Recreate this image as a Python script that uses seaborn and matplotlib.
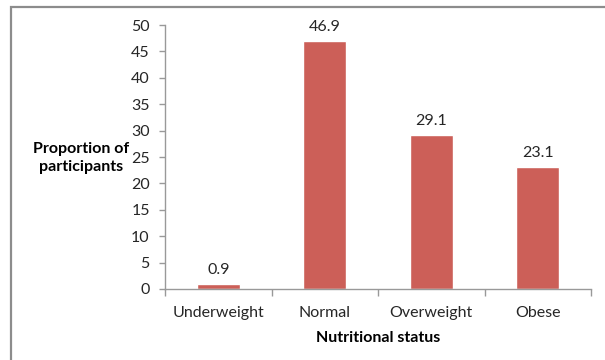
import matplotlib
matplotlib.use("Agg")
import matplotlib.pyplot as plt
from matplotlib.patches import Rectangle
import seaborn as sns
import pandas as pd

categories = ["Underweight", "Normal", "Overweight", "Obese"]
proportions = [0.9, 46.9, 29.1, 23.1]
y_ticks = [0, 5, 10, 15, 20, 25, 30, 35, 40, 45, 50]

sns.set_theme(style="white")
plt.rcParams["font.family"] = ["Lato", "DejaVu Sans"]

df = pd.DataFrame({"status": categories, "proportion": proportions})

fig = plt.figure(figsize=(6.05, 3.6), dpi=100)
ax = fig.add_axes([165 / 605, 1 - 289 / 360, 426 / 605, 264 / 360])

sns.barplot(data=df, x="status", y="proportion", color="#CC5F58",
            saturation=1, width=0.4, ax=ax)

ax.set_ylim(0, 50)
ax.set_xlim(-0.5, len(categories) - 0.5)
ax.set_yticks(y_ticks)
ax.set_yticklabels([str(t) for t in y_ticks], fontsize=11.5, color="#262626")
ax.set_xticks(range(len(categories)))
ax.set_xticklabels(categories, fontsize=11.5, color="#262626")

# category separators on the x axis, Excel style
ax.set_xticks([i - 0.5 for i in range(len(categories) + 1)], minor=True)
ax.tick_params(axis="x", which="major", length=0, pad=12)
ax.tick_params(axis="x", which="minor", length=5, width=1, color="#999999",
               direction="out", bottom=True)
ax.tick_params(axis="y", length=4, width=1, color="#999999",
               direction="out", left=True, pad=7)

for side in ["top", "right"]:
    ax.spines[side].set_visible(False)
for side in ["left", "bottom"]:
    ax.spines[side].set_color("#999999")
    ax.spines[side].set_linewidth(1)

for container in ax.containers:
    ax.bar_label(container, labels=[f"{v:.1f}" for v in proportions],
                 padding=5, fontsize=11.5, color="#262626")

ax.set_xlabel("Nutritional status", fontsize=11.5, fontweight="bold",
              color="#000000", labelpad=8)
ax.set_ylabel("")
fig.text(81 / 605, 1 - 158 / 360, "Proportion of\nparticipants",
         ha="center", va="center", fontsize=11.5, fontweight="bold",
         color="#000000", linespacing=1.3)

# chart-area frame
fig.patches.append(Rectangle((11 / 605, -0.1), 1.2, 1 - 7 / 360 + 0.1,
                             transform=fig.transFigure, fill=False,
                             edgecolor="#8c8c8c", linewidth=1.6))

fig.savefig("out.png", dpi=100, facecolor="white")
